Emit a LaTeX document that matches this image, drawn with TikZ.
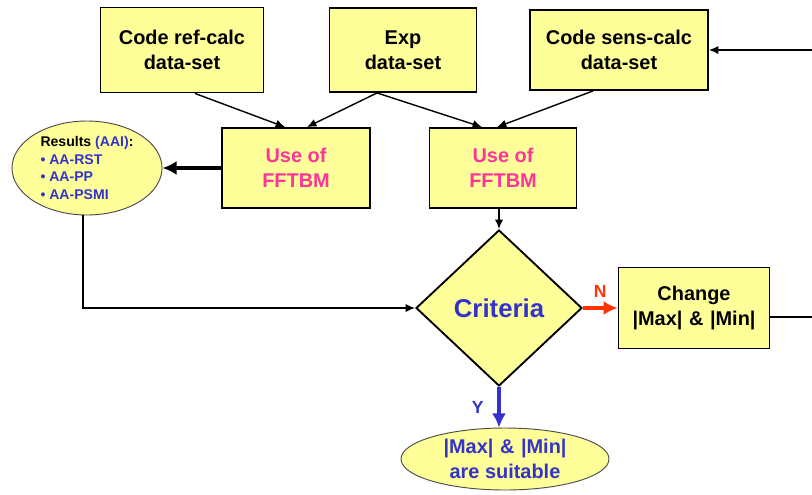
\documentclass[tikz,border=0pt]{standalone}
\usepackage{fontspec}
\setmainfont{Liberation Sans}
\usetikzlibrary{shapes.geometric,arrows.meta,calc}

\definecolor{boxyellow}{RGB}{255,255,153}
\definecolor{fftpink}{RGB}{255,51,153}
\definecolor{critblue}{RGB}{51,51,204}
\definecolor{nred}{RGB}{255,51,0}

\tikzset{
  databox/.style={draw, line width=1.6pt, fill=boxyellow, align=center, inner sep=0pt,
    font=\fontsize{17}{21.5}\selectfont\bfseries},
  bubble/.style={ellipse, draw=black!70, line width=0.8pt, fill=boxyellow, inner sep=0pt},
  decision/.style={diamond, draw, line width=1.6pt, fill=boxyellow, inner sep=0pt,
    text=critblue, font=\fontsize{22}{26}\selectfont\bfseries},
  bigarrow/.style={-{Latex[length=12pt,width=12pt]}, line width=3.5pt}
}

\begin{document}
\begin{tikzpicture}[x=0.03cm, y=-0.03cm, >={Latex[length=8pt,width=7pt]}, line width=1.2pt]

\useasboundingbox (0,0) rectangle (812,494);
\clip (0,0) rectangle (812,494);

% data sets
\node[databox, minimum width=4.89cm, minimum height=2.55cm] (refcalc) at (182,50) {Code ref-calc\\data-set};
\node[databox, minimum width=4.41cm, minimum height=2.52cm] (exp) at (403,50) {Exp\\data-set};
\node[databox, minimum width=5.34cm, minimum height=2.4cm] (senscalc) at (619,50) {Code sens-calc\\data-set};

% FFTBM
\node[databox, text=fftpink, minimum width=4.44cm, minimum height=2.4cm] (fftL) at (296,168) {Use of\\FFTBM};
\node[databox, text=fftpink, minimum width=4.41cm, minimum height=2.4cm] (fftR) at (503,168) {Use of\\FFTBM};

\node[bubble, minimum width=4.5cm, minimum height=2.82cm, align=left,
  font=\fontsize{12}{15}\selectfont\bfseries] (results) at (87,168)
  {Results {\color{critblue}(AAI)}:\\{\color{critblue}• AA-RST}\\{\color{critblue}• AA-PP}\\{\color{critblue}• AA-PSMI}};

\node[decision, minimum width=4.98cm, minimum height=4.68cm] (crit) at (499,308) {Criteria};
\node[databox, minimum width=4.53cm, minimum height=2.43cm] (change) at (694,308) {Change\\|Max|\,\,\&\,\,|Min|};
\node[bubble, minimum width=6.24cm, minimum height=1.86cm, align=center, text=critblue,
  font=\fontsize{17}{21.5}\selectfont\bfseries] (suitable) at (505,459) {|Max|\,\,\&\,\,|Min|\\are suitable};

% connectors
\draw[->] ($(refcalc.south)+(13,0)$) -- ($(fftL.north)+(-11,0)$);
\draw[->] ($(exp.south)+(-26,0)$) -- ($(fftL.north)+(11,0)$);
\draw[->] ($(exp.south)+(-26,0)$) -- ($(fftR.north)+(-21,0)$);
\draw[->] ($(senscalc.south)+(-26,0)$) -- ($(fftR.north)+(-6,0)$);

\draw[bigarrow, line width=4pt] (fftL.west) -- (results.east);
\draw[->] (crit.north |- fftR.south) -- (crit.north);
\draw[->] (results.-95) |- (crit.west);

\draw[bigarrow, nred] (crit.east) -- node[above=4pt, font=\fontsize{15}{18}\selectfont\bfseries]{N} (change.west);
\draw[bigarrow, critblue] (crit.south) -- node[left=8pt, font=\fontsize{15}{18}\selectfont\bfseries]{Y} (crit.south |- suitable.north);

\draw[->] ($(change.east)+(0,9)$) -- ++(70,0) |- (senscalc.east);

\end{tikzpicture}
\end{document}
